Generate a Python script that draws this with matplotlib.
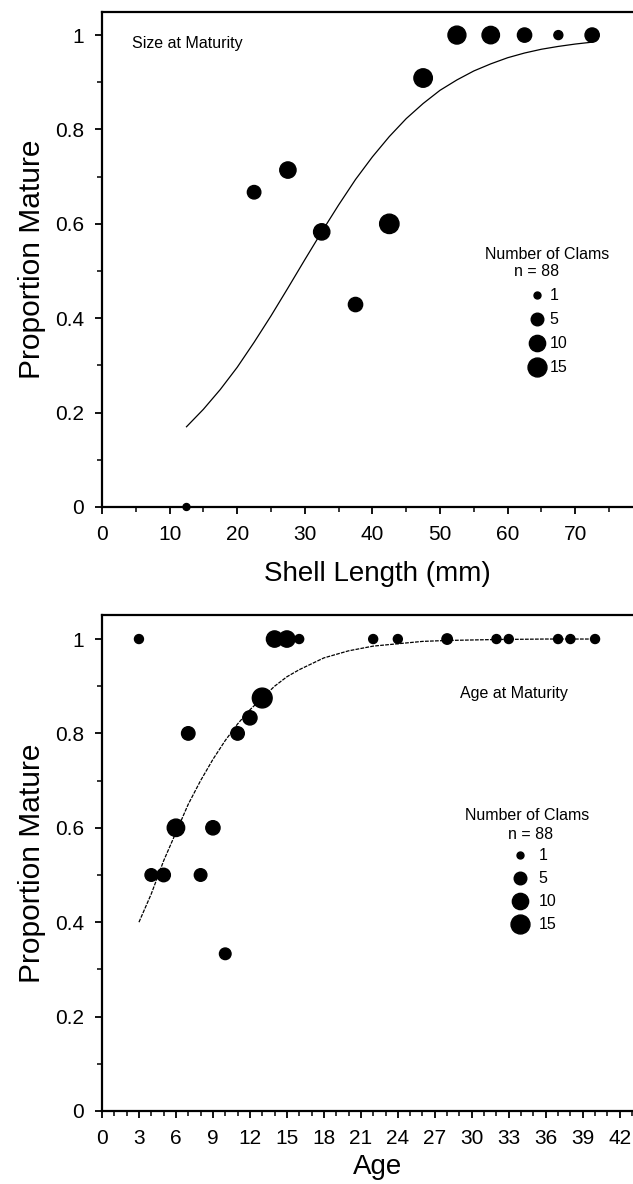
import matplotlib
matplotlib.use("Agg")
import matplotlib.pyplot as plt
from matplotlib.ticker import MultipleLocator
import numpy as np

plt.rcParams["font.family"] = ["Liberation Sans", "DejaVu Sans"]

# size at maturity (5 mm bins)
size_mid = [12.5, 22.5, 27.5, 32.5, 37.5, 42.5, 47.5, 52.5, 57.5, 62.5, 67.5, 72.5]
size_prop = [0.0, 0.667, 0.714, 0.583, 0.429, 0.6, 0.909, 1, 1, 1, 1, 1]
size_n = [1, 6, 10, 10, 7, 16, 14, 13, 12, 7, 2, 7]
size_ticks = [0, 10, 20, 30, 40, 50, 60, 70]

# fitted curve
size_fit_x = [12.5, 15, 17.5, 20, 22.5, 25, 27.5, 30, 32.5, 35, 37.5, 40, 42.5,
              45, 47.5, 50, 52.5, 55, 57.5, 60, 62.5, 65, 67.5, 70, 72.5]
size_fit_y = [0.170, 0.207, 0.249, 0.296, 0.349, 0.405, 0.464, 0.524, 0.583, 0.640,
              0.694, 0.742, 0.785, 0.823, 0.855, 0.883, 0.905, 0.924, 0.939, 0.952,
              0.962, 0.970, 0.976, 0.981, 0.985]

# age at maturity
age = [3, 4, 5, 6, 7, 8, 9, 10, 11, 12, 13, 14, 15, 16, 22, 24, 28, 32, 33, 37, 38, 40]
age_prop = [1, 0.5, 0.5, 0.6, 0.8, 0.5, 0.6, 0.333, 0.8, 0.833, 0.875,
            1, 1, 1, 1, 1, 1, 1, 1, 1, 1, 1]
age_n = [2, 5, 6, 12, 6, 5, 7, 4, 6, 7, 17, 10, 10, 2, 2, 2, 3, 2, 2, 2, 2, 2]

age_fit_x = [3, 4, 5, 6, 7, 8, 9, 10, 11, 12, 13, 14, 15, 16, 18, 20, 22, 24, 26, 28, 32, 36, 40]
age_fit_y = [0.40, 0.46, 0.53, 0.59, 0.65, 0.70, 0.745, 0.785, 0.82, 0.85, 0.875, 0.90,
             0.92, 0.935, 0.96, 0.975, 0.985, 0.99, 0.995, 0.997, 0.999, 1.0, 1.0]

legend_n = [1, 5, 10, 15]


def msize(n):
    # marker diameter in points, grows slower than area
    return 5.0 * np.asarray(n, dtype=float) ** 0.37


def style_axes(ax):
    for sp in ax.spines.values():
        sp.set_linewidth(1.6)
    ax.spines["right"].set_visible(False)
    ax.tick_params(which="major", direction="out", length=5, width=1.3, labelsize=15, pad=8)
    ax.tick_params(which="minor", direction="out", length=3.6, width=1.1)
    ax.yaxis.set_major_locator(MultipleLocator(0.2))
    ax.yaxis.set_minor_locator(MultipleLocator(0.1))
    ax.yaxis.set_major_formatter(plt.FuncFormatter(lambda v, p: "%g" % round(v, 1)))
    ax.set_ylabel("Proportion Mature", fontsize=21.5, labelpad=6)


def size_legend(ax, tx, ty, nx, ny, dx, dy0, dy, lx):
    kw = dict(transform=ax.transAxes, va="center", fontsize=11.5)
    ax.text(tx, ty, "Number of Clams", ha="center", **kw)
    ax.text(nx, ny, "n = 88", ha="center", **kw)
    for i, n in enumerate(legend_n):
        yy = dy0 - i * dy
        ax.plot([dx], [yy], "o", color="black", ms=msize(n), transform=ax.transAxes, clip_on=False)
        ax.text(lx, yy, str(n), ha="left", **kw)


fig = plt.figure(figsize=(6.33, 11.84), dpi=100)

# top panel: size at maturity
ax1 = fig.add_axes([0.1611, 0.5718, 0.8705, 0.4181])
ax1.plot(size_fit_x, size_fit_y, color="black", lw=0.9)
ax1.scatter(size_mid, size_prop, s=msize(size_n) ** 2, color="black", zorder=3, clip_on=False)
ax1.set_xlim(0, 81.5)
ax1.set_ylim(0, 1.049)
ax1.set_xticks(size_ticks)
ax1.xaxis.set_minor_locator(MultipleLocator(5))
style_axes(ax1)
ax1.set_xlabel("Shell Length (mm)", fontsize=20, labelpad=12)
ax1.text(0.054, 0.937, "Size at Maturity", transform=ax1.transAxes, ha="left", va="center", fontsize=11.5)
size_legend(ax1, 0.808, 0.511, 0.788, 0.475, 0.789, 0.428, 0.0485, 0.812)

# bottom panel: age at maturity
ax2 = fig.add_axes([0.1611, 0.0617, 0.8705, 0.4189])
ax2.plot(age_fit_x, age_fit_y, color="black", lw=0.9, ls=(0, (3, 1)))
ax2.scatter(age, age_prop, s=msize(age_n) ** 2, color="black", zorder=3, clip_on=False)
ax2.set_xlim(0, 44.7)
ax2.set_ylim(0, 1.051)
ax2.xaxis.set_major_locator(MultipleLocator(3))
ax2.xaxis.set_minor_locator(MultipleLocator(1))
style_axes(ax2)
ax2.set_xlabel("Age", fontsize=20, labelpad=4)
ax2.text(0.747, 0.841, "Age at Maturity", transform=ax2.transAxes, ha="center", va="center", fontsize=11.5)
size_legend(ax2, 0.772, 0.595, 0.777, 0.558, 0.759, 0.516, 0.0464, 0.792)

fig.savefig("out.png", dpi=100)
